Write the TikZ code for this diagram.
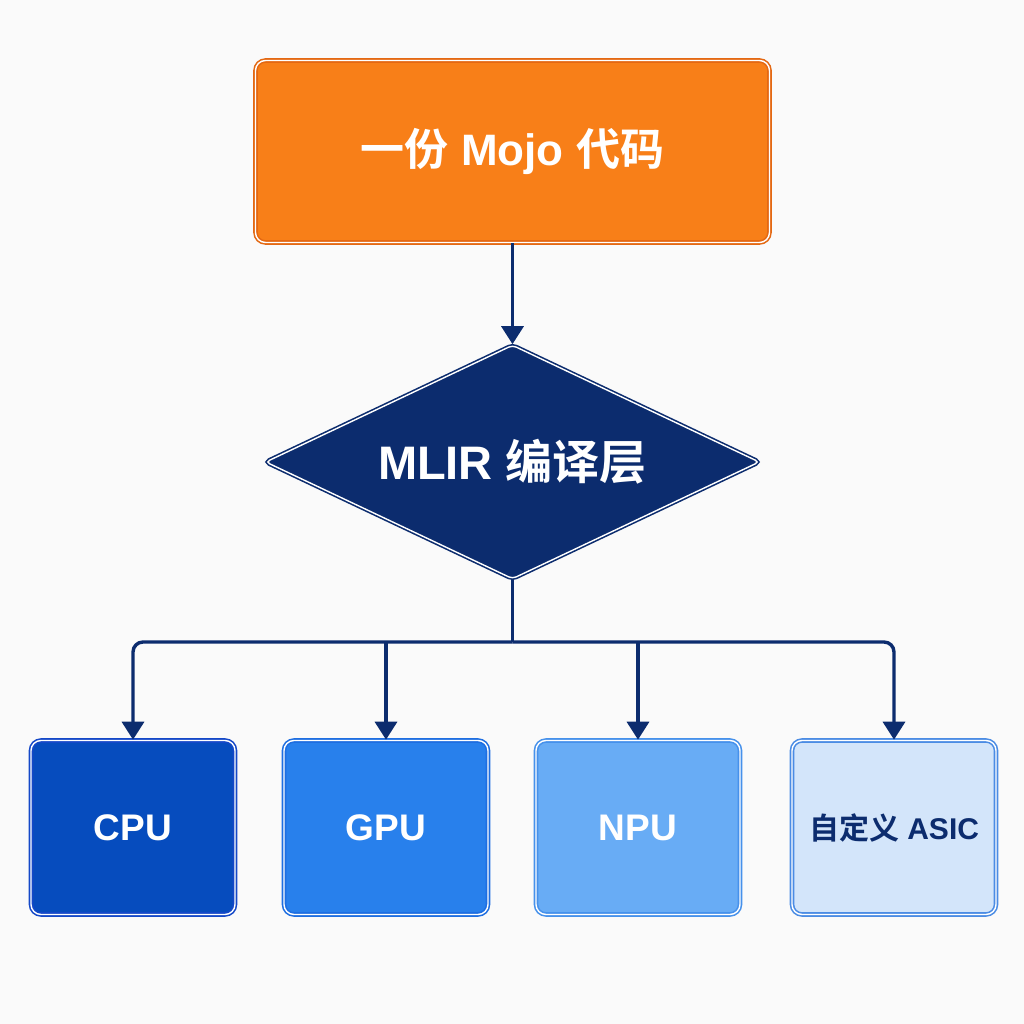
\documentclass[tikz,border=0pt]{standalone}
\usepackage{fontspec}
\setmainfont{Liberation Sans}
\newfontfamily\cjk{Noto Sans CJK SC}[BoldFont={Noto Sans CJK SC Bold}]
\usetikzlibrary{shapes.geometric,arrows.meta}
\definecolor{bgcol}{RGB}{250,250,250}
\definecolor{mojoorange}{RGB}{248,127,24}
\definecolor{mojoedge}{RGB}{228,104,18}
\definecolor{navy}{RGB}{12,44,110}
\definecolor{cpucol}{RGB}{6,76,190}
\definecolor{cpuedge}{RGB}{20,72,200}
\definecolor{gpucol}{RGB}{40,128,236}
\definecolor{gpuedge}{RGB}{30,110,225}
\definecolor{npucol}{RGB}{104,172,245}
\definecolor{npuedge}{RGB}{70,145,235}
\definecolor{asiccol}{RGB}{211,229,250}
\definecolor{asicedge}{RGB}{75,140,228}
\begin{document}
\begin{tikzpicture}[x=0.5pt, y=0.5pt, line width=0.6pt,
  framed/.style={double=white, double distance=0.7pt, line width=0.8pt, inner sep=0pt},
  topbox/.style={framed, rectangle, rounded corners=5pt, draw=mojoedge, fill=mojoorange,
    minimum width=257pt, minimum height=91pt, text=white, font=\bfseries\fontsize{22}{26}\selectfont},
  layer/.style={framed, diamond, aspect=2, rounded corners=2pt, draw=navy, fill=navy,
    minimum width=247pt, minimum height=117pt, text=white, font=\bfseries\fontsize{23.5}{28}\selectfont},
  target/.style={framed, rectangle, rounded corners=5pt, minimum width=102pt,
    minimum height=87pt, text=white, font=\bfseries\fontsize{18.5}{22}\selectfont},
  link/.style={draw=navy, line width=1.7pt, -{Triangle[length=9pt, width=11pt]}}]
  \fill[bgcol] (0,0) rectangle (1024,1024);
  \useasboundingbox (0,0) rectangle (1024,1024);
  \node[topbox] (mojo) at (512.5,872.5) {{\cjk 一份} Mojo {\cjk 代码}};
  \node[layer] (mlir) at (512.5,562) {MLIR {\cjk 编译层}};
  \node[target, draw=cpuedge, fill=cpucol] (cpu) at (133,196.5) {CPU};
  \node[target, draw=gpuedge, fill=gpucol] (gpu) at (386,196.5) {GPU};
  \node[target, draw=npuedge, fill=npucol] (npu) at (638,196.5) {NPU};
  \node[target, draw=asicedge, fill=asiccol, text=navy,
    font=\bfseries\fontsize{15}{18}\selectfont] (asic) at (894,196.5) {{\cjk 自定义} ASIC};
  \coordinate (bus) at (512.5,382);
  \draw[link] (mojo) -- (mlir);
  \draw[draw=navy, line width=1.7pt] (mlir.south) -- (bus);
  \draw[link, rounded corners=5pt] (bus) -| (cpu.north);
  \draw[link, rounded corners=5pt] (bus) -| (asic.north);
  \draw[link] (gpu.north |- bus) -- (gpu.north);
  \draw[link] (npu.north |- bus) -- (npu.north);
\end{tikzpicture}
\end{document}
